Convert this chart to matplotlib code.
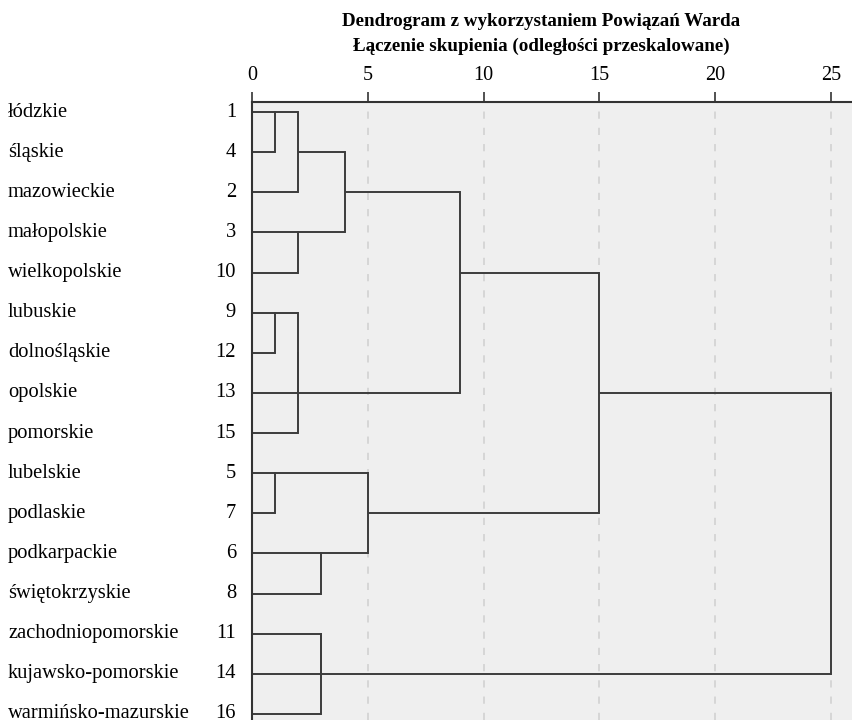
import matplotlib.pyplot as plt

plt.rcParams['font.family'] = ['Liberation Serif', 'DejaVu Serif']

# leaves in dendrogram order (top to bottom)
names = ["łódzkie", "śląskie", "mazowieckie", "małopolskie", "wielkopolskie",
         "lubuskie", "dolnośląskie", "opolskie", "pomorskie", "lubelskie",
         "podlaskie", "podkarpackie", "świętokrzyskie", "zachodniopomorskie",
         "kujawsko-pomorskie", "warmińsko-mazurskie"]
case_nums = [1, 4, 2, 3, 10, 9, 12, 13, 15, 5, 7, 6, 8, 11, 14, 16]

# merges: (child a, child b, rescaled distance); leaves are 0..15, new clusters 16, 17, ...
merges = [
    (0, 1, 1.0),     # 16
    (16, 2, 2.0),    # 17
    (3, 4, 2.0),     # 18
    (17, 18, 4.0),   # 19
    (5, 6, 1.0),     # 20
    (20, 7, 2.0),    # 21
    (21, 8, 2.0),    # 22
    (19, 22, 9.0),   # 23
    (9, 10, 1.0),    # 24
    (11, 12, 3.0),   # 25
    (24, 25, 5.0),   # 26
    (23, 26, 15.0),  # 27
    (13, 14, 3.0),   # 28
    (28, 15, 3.0),   # 29
    (27, 29, 25.0),  # 30
]

W, H = 853, 720
fig = plt.figure(figsize=(W / 100, H / 100), dpi=100)
ax = fig.add_axes([252 / W, 0, 601 / W, 618 / H])
ax.set_facecolor('#efefef')

line_col = '#3c3c3c'
n = len(names)
pos = {i: (0.0, i) for i in range(n)}
for k, (a, b, d) in enumerate(merges):
    xa, ya = pos[a]
    xb, yb = pos[b]
    ax.plot([xa, d], [ya, ya], color=line_col, lw=1.4, solid_capstyle='butt')
    ax.plot([xb, d], [yb, yb], color=line_col, lw=1.4, solid_capstyle='butt')
    ax.plot([d, d], [ya, yb], color=line_col, lw=1.4, solid_capstyle='projecting')
    pos[n + k] = (d, (ya + yb) // 2)

ax.set_xlim(0, 25.95)
ax.set_ylim(15.15, -0.25)

ax.xaxis.tick_top()
ax.set_xticks([0, 5, 10, 15, 20, 25])
ax.tick_params(axis='x', direction='out', length=7, width=1.2, color='#333333',
               labelsize=14.5, pad=5)
ax.tick_params(axis='y', length=0)
ax.set_yticks([])
for x in [5, 10, 15, 20, 25]:
    ax.axvline(x, color='#d4d4d4', lw=1.3, ls=(0, (4, 5)), zorder=0)

for s in ['right', 'bottom']:
    ax.spines[s].set_visible(False)
ax.spines['top'].set_color('#333333')
ax.spines['top'].set_linewidth(1.5)
ax.spines['left'].set_color('#333333')
ax.spines['left'].set_linewidth(1.5)

for i, (nm, cn) in enumerate(zip(names, case_nums)):
    ax.text(-244 / 23.16, i, nm, ha='left', va='center', fontsize=14.8, clip_on=False)
    ax.text(-16 / 23.16, i, str(cn), ha='right', va='center', fontsize=14.8, clip_on=False)

fig.text(541 / W, 1 - 21 / H, "Dendrogram z wykorzystaniem Powiązań Warda",
         ha='center', va='center', fontsize=13.7, fontweight='bold')
fig.text(541 / W, 1 - 46 / H, "Łączenie skupienia (odległości przeskalowane)",
         ha='center', va='center', fontsize=13.7, fontweight='bold')

fig.savefig('out.png', dpi=100)
